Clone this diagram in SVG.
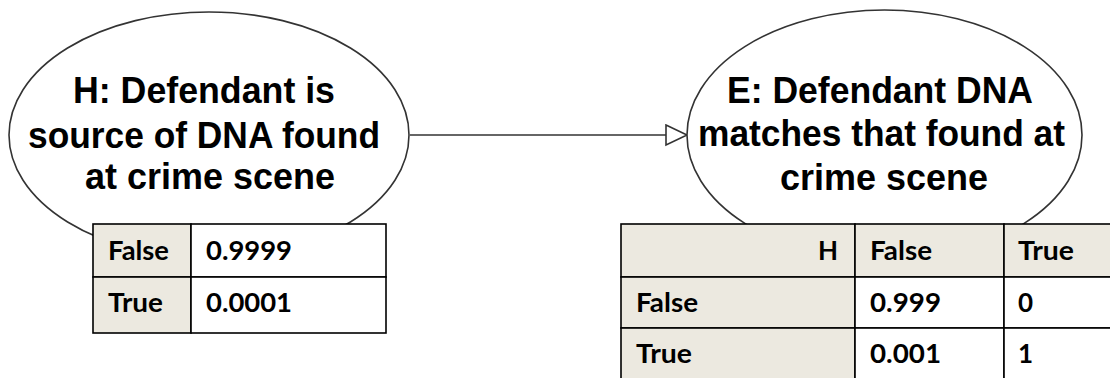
<svg xmlns="http://www.w3.org/2000/svg" width="1110" height="378" viewBox="0 0 1110 378">
<defs>
<style>
.node{fill:#fff;stroke:#333;stroke-width:1.6}
.lbl{font-family:"Liberation Sans",Arial,sans-serif;font-weight:bold;font-size:36px;fill:#000;text-anchor:middle}
.cell{stroke:#000;stroke-width:1.6}
.hd{fill:#ECE9E0}
.wh{fill:#fff}
.tt{font-family:Lato,"Open Sans",sans-serif;font-weight:bold;font-size:26px;fill:#000}
.edge{stroke:#333;stroke-width:1.6;fill:none}
</style>
<marker id="tri" markerWidth="24" markerHeight="24" refX="22" refY="11" orient="auto" markerUnits="userSpaceOnUse">
<path d="M1,1 L22,11 L1,21 Z" fill="#fff" stroke="#333" stroke-width="1.6"/>
</marker>
</defs>
<g id="connectors">
<line class="edge" x1="410" y1="135" x2="687" y2="135" marker-end="url(#tri)"/>
</g>
<g id="node-H">
<ellipse class="node" cx="209" cy="135" rx="200" ry="123"/>
<text class="lbl" x="204" y="103" textLength="262" lengthAdjust="spacingAndGlyphs">H: Defendant is</text>
<text class="lbl" x="204" y="148" textLength="352" lengthAdjust="spacingAndGlyphs">source of DNA found</text>
<text class="lbl" x="210" y="189" textLength="250" lengthAdjust="spacingAndGlyphs">at crime scene</text>
</g>
<g id="table-H">
<rect class="cell hd" x="93" y="224" width="98" height="53"/>
<rect class="cell wh" x="191" y="224" width="195" height="53"/>
<rect class="cell hd" x="93" y="277" width="98" height="56"/>
<rect class="cell wh" x="191" y="277" width="195" height="56"/>
<text class="tt" x="108" y="260" textLength="61" lengthAdjust="spacingAndGlyphs">False</text>
<text class="tt" x="206" y="260" textLength="86" lengthAdjust="spacingAndGlyphs">0.9999</text>
<text class="tt" x="108" y="312" textLength="55" lengthAdjust="spacingAndGlyphs">True</text>
<text class="tt" x="206" y="312" textLength="86" lengthAdjust="spacingAndGlyphs">0.0001</text>
</g>
<g id="node-E">
<ellipse class="node" cx="884.5" cy="135" rx="197.5" ry="125"/>
<text class="lbl" x="880" y="103" textLength="306" lengthAdjust="spacingAndGlyphs">E: Defendant DNA</text>
<text class="lbl" x="881.5" y="146" textLength="367" lengthAdjust="spacingAndGlyphs">matches that found at</text>
<text class="lbl" x="884" y="190" textLength="208" lengthAdjust="spacingAndGlyphs">crime scene</text>
</g>
<g id="table-E">
<rect class="cell hd" x="621" y="224" width="234" height="53"/>
<rect class="cell hd" x="855" y="224" width="149" height="53"/>
<rect class="cell hd" x="1004" y="224" width="120" height="53"/>
<rect class="cell hd" x="621" y="277" width="234" height="51"/>
<rect class="cell wh" x="855" y="277" width="149" height="51"/>
<rect class="cell wh" x="1004" y="277" width="120" height="51"/>
<rect class="cell hd" x="621" y="328" width="234" height="60"/>
<rect class="cell wh" x="855" y="328" width="149" height="60"/>
<rect class="cell wh" x="1004" y="328" width="120" height="60"/>
<text class="tt" x="838" y="260" text-anchor="end">H</text>
<text class="tt" x="870" y="260" textLength="62" lengthAdjust="spacingAndGlyphs">False</text>
<text class="tt" x="1018" y="260" textLength="56" lengthAdjust="spacingAndGlyphs">True</text>
<text class="tt" x="636" y="312" textLength="62" lengthAdjust="spacingAndGlyphs">False</text>
<text class="tt" x="870" y="312" textLength="71" lengthAdjust="spacingAndGlyphs">0.999</text>
<text class="tt" x="1018" y="312">0</text>
<text class="tt" x="636" y="363" textLength="56" lengthAdjust="spacingAndGlyphs">True</text>
<text class="tt" x="870" y="363" textLength="71" lengthAdjust="spacingAndGlyphs">0.001</text>
<text class="tt" x="1018" y="363">1</text>
</g>
</svg>
